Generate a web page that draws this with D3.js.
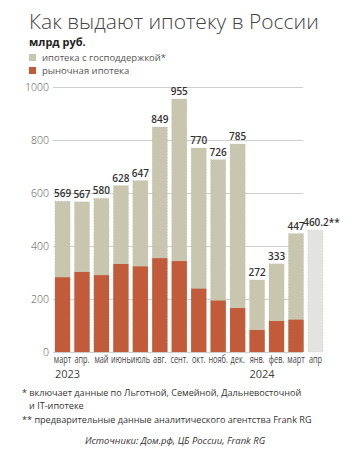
<!DOCTYPE html>
<html lang="ru">
<head>
<meta charset="utf-8">
<script src="https://d3js.org/d3.v7.min.js"></script>
<style>
  body { margin: 0; background: #fff; }
  text { font-family: "Open Sans", "Noto Sans", sans-serif; }
</style>
</head>
<body>
<script>
// months shown on the x axis
const months = ["март", "апр.", "май", "июнь", "июль", "авг.", "сент.", "окт.", "нояб.", "дек.", "янв.", "фев.", "март", "апр"];
// total issued, bn rub (last one is preliminary)
const totals = [569, 567, 580, 628, 647, 849, 955, 770, 726, 785, 272, 333, 447, 460.2];
// market (non-subsidised) part; none for april
const market = [282, 302, 290, 332, 323, 354, 343, 239, 194, 166, 83, 117, 122, null];
const totalLabels = ["569", "567", "580", "628", "647", "849", "955", "770", "726", "785", "272", "333", "447", "460.2**"];
const years = [{ idx: 0, label: "2023" }, { idx: 10, label: "2024" }];
const yTicks = [0, 200, 400, 600, 800, 1000];

const W = 351, H = 451;
const cBeige = "#c9c6b0", cRed = "#c25b39", cPrelim = "#e3e3e1";

const svg = d3.select("body").append("svg").attr("width", W).attr("height", H);

// title block
svg.append("text").attr("x", 29).attr("y", 29)
  .attr("font-size", 21).attr("font-weight", 300).attr("fill", "#444")
  .text("Как выдают ипотеку в России");
svg.append("text").attr("x", 29).attr("y", 46)
  .attr("font-size", 11).attr("font-weight", 700).attr("fill", "#222")
  .text("млрд руб.");

// legend
const legend = [{ c: cBeige, t: "ипотека с господдержкой*" }, { c: cRed, t: "рыночная ипотека" }];
legend.forEach((d, i) => {
  svg.append("rect").attr("x", 29).attr("y", 54 + i * 13).attr("width", 7).attr("height", 7).attr("fill", d.c);
  svg.append("text").attr("x", 42).attr("y", 61 + i * 13)
    .attr("font-size", 9.5).attr("fill", "#555").text(d.t);
});

const x = d3.scaleBand().domain(d3.range(months.length))
  .range([53, 325]).paddingInner(0.22).paddingOuter(0.1);
const y = d3.scaleLinear().domain([0, 1000]).range([352, 87]);

// grid + y labels
const yAxis = svg.append("g").attr("transform", "translate(53,0)")
  .call(d3.axisLeft(y).tickValues(yTicks).tickFormat(d3.format("d")).tickSize(-250).tickPadding(4));
yAxis.select(".domain").remove();
yAxis.selectAll(".tick line").attr("stroke", "#cfcfcf");
yAxis.selectAll(".tick text").attr("font-size", 10.5).attr("font-weight", 300)
  .attr("fill", "#555").attr("font-family", "\"Open Sans\", sans-serif");

// bars
const g = svg.append("g");
totals.forEach((v, i) => {
  const prelim = market[i] === null;
  g.append("rect").attr("x", x(i)).attr("width", x.bandwidth())
    .attr("y", y(v)).attr("height", y(0) - y(v))
    .attr("fill", prelim ? cPrelim : cBeige)
    .attr("stroke", "#b8b6a6").attr("stroke-width", 0.5).attr("stroke-dasharray", "1,2");
  if (!prelim) {
    g.append("rect").attr("x", x(i)).attr("width", x.bandwidth())
      .attr("y", y(market[i])).attr("height", y(0) - y(market[i]))
      .attr("fill", cRed);
  }
  g.append("text")
    .attr("x", x(i) + x.bandwidth() / 2 + (prelim ? 6 : 0))
    .attr("y", y(v) - 4)
    .attr("text-anchor", "middle").attr("font-size", 10).attr("font-weight", 600)
    .attr("fill", "#333").text(totalLabels[i]);
});

// x labels, squeezed horizontally like the condensed original
months.forEach((m, i) => {
  svg.append("text")
    .attr("transform", `translate(${x(i) + x.bandwidth() / 2},362.5) scale(0.7,1)`)
    .attr("text-anchor", "middle").attr("font-size", 10.5)
    .attr("fill", "#444").text(m);
});
years.forEach(d => {
  svg.append("text").attr("x", x(d.idx)).attr("y", 378)
    .attr("font-size", 11).attr("fill", "#444").text(d.label);
});

// footnotes
const notes = [
  { x: 22, y: 396, t: "*  включает данные по Льготной, Семейной, Дальневосточной" },
  { x: 29, y: 409, t: "и IT-ипотеке" },
  { x: 22, y: 423, t: "** предварительные данные аналитического агентства Frank RG" }
];
notes.forEach(d => {
  svg.append("text").attr("x", d.x).attr("y", d.y).attr("font-size", 9.1)
    .attr("fill", "#333").text(d.t);
});
svg.append("text").attr("x", 175).attr("y", 444).attr("text-anchor", "middle")
  .attr("font-size", 9.5).attr("font-style", "italic").attr("fill", "#333")
  .text("Источники: Дом.рф, ЦБ России, Frank RG");
</script>
</body>
</html>
